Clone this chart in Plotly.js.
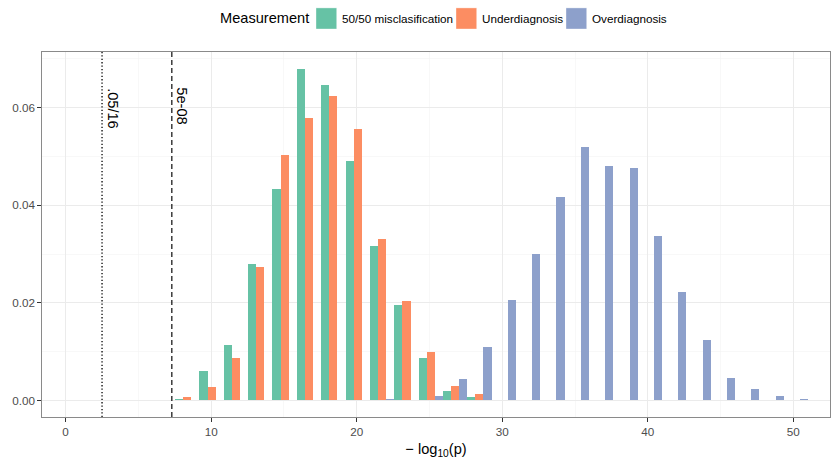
<!DOCTYPE html>
<html>
<head>
<meta charset="utf-8">
<script src="https://cdn.plot.ly/plotly-3.0.1.min.js"></script>
<style>html,body{margin:0;padding:0;background:#fff;}#chart{width:831px;height:459px;}</style>
</head>
<body>
<div id="chart"></div>
<script>
// Histogram bin centres (-log10 p)
var binCenters = [8.36, 10.03, 11.71, 13.38, 15.05, 16.72, 18.40, 20.07, 21.74, 23.42, 25.09, 26.76, 28.43,
                  30.11, 31.78, 33.45, 35.13, 36.80, 38.47, 40.14, 41.82, 43.49, 45.16, 46.83, 48.51, 50.18];
var seriesNames = ["50/50 misclasification", "Underdiagnosis", "Overdiagnosis"];
var misclassification = [0.0002, 0.0060, 0.0113, 0.0280, 0.0433, 0.0680, 0.0647, 0.0490, 0.0316, 0.0196, 0.0087, 0.0019, 0.0006,
                         0, 0, 0, 0, 0, 0, 0, 0, 0, 0, 0, 0, 0];
var underdiagnosis    = [0.0006, 0.0027, 0.0087, 0.0274, 0.0503, 0.0579, 0.0623, 0.0556, 0.0330, 0.0203, 0.0100, 0.0030, 0.0013,
                         0, 0, 0, 0, 0, 0, 0, 0, 0, 0, 0, 0, 0];
var overdiagnosis     = [0, 0, 0, 0, 0, 0, 0, 0, 0.0002, 0, 0.0009, 0.0043, 0.0109,
                         0.0206, 0.0300, 0.0416, 0.0519, 0.0480, 0.0476, 0.0336, 0.0222, 0.0123, 0.0046, 0.0023, 0.0009, 0.0003];
var colors = ["#66C2A5", "#FC8D62", "#8DA0CB"];
// Threshold lines
var thresholdX = [2.505, 7.301];
var thresholdLabels = [".05/16", "5e-08"];
var thresholdDash = ["1.3px,2.1px", "5px,3px"];
var thresholdWidth = [1.3, 1.15];
var xTicks = [0, 10, 20, 30, 40, 50];
var yTicks = [0, 0.02, 0.04, 0.06];
var yTickText = ["0.00", "0.02", "0.04", "0.06"];

var FONT = "Liberation Sans, Arial, Helvetica, sans-serif";
var W = 831, H = 459, ML = 42, MR = 1, MT = 52, MB = 42;
var PW = W - ML - MR, PH = H - MT - MB;
function px(x) { return (x - ML) / PW; }
function py(y) { return (H - MB - y) / PH; }

var allSeries = [misclassification, underdiagnosis, overdiagnosis];
var traces = allSeries.map(function (vals, i) {
  return {
    type: "bar",
    x: binCenters,
    y: vals,
    name: seriesNames[i],
    marker: {color: colors[i], line: {width: 0}},
    showlegend: false,
    hoverinfo: "x+y+name"
  };
});

var shapes = [];
var annotations = [];
thresholdX.forEach(function (xv, i) {
  shapes.push({type: "line", xref: "x", yref: "paper", x0: xv, x1: xv, y0: 0, y1: 1,
               line: {color: "#000000", width: thresholdWidth[i], dash: thresholdDash[i]}});
  annotations.push({xref: "x", yref: "y", x: xv, y: 0.0645, xshift: i === 0 ? 11 : 10,
                    xanchor: "center", yanchor: "top", textangle: 90, showarrow: false,
                    text: thresholdLabels[i], font: {family: FONT, size: 14.6, color: "#000000"}});
});

// Legend (drawn in the top margin)
annotations.push({xref: "paper", yref: "paper", x: px(217.5), y: py(18.3), xanchor: "left", yanchor: "middle",
                  showarrow: false, text: "Measurement", font: {family: FONT, size: 14.6, color: "#000000"}});
var keyX = [316, 456, 566];
var labelX = [339.5, 479.5, 589.5];
seriesNames.forEach(function (n, i) {
  shapes.push({type: "rect", xref: "paper", yref: "paper", x0: px(keyX[i]), x1: px(keyX[i] + 20.7),
               y0: py(29), y1: py(7.9), fillcolor: colors[i], line: {width: 0.6, color: "rgba(255,255,255,0.6)"}});
  annotations.push({xref: "paper", yref: "paper", x: px(labelX[i]), y: py(18.3), xanchor: "left", yanchor: "middle",
                    showarrow: false, text: n, font: {family: FONT, size: 11.7, color: "#000000"}});
});

var layout = {
  width: W, height: H,
  margin: {l: ML, r: MR, t: MT, b: MB, pad: 0},
  paper_bgcolor: "#ffffff", plot_bgcolor: "#ffffff",
  font: {family: FONT, size: 11.7, color: "#4d4d4d"},
  barmode: "group", bargap: 0, bargroupgap: 0,
  showlegend: false,
  xaxis: {
    range: [-1.62, 52.52], tickvals: xTicks, ticktext: xTicks.map(String),
    showgrid: true, gridcolor: "#ebebeb", gridwidth: 1.07, zeroline: false,
    minor: {dtick: 5, tick0: 5, showgrid: true, gridcolor: "#f2f2f2", gridwidth: 0.55, ticks: ""},
    ticks: "outside", ticklen: 3.6, tickwidth: 1.07, tickcolor: "#333333",
    tickfont: {family: FONT, size: 11.7, color: "#4d4d4d"},
    showline: true, mirror: true, linecolor: "#8a8a8a", linewidth: 1.1,
    title: {text: "\u2212 log<sub>10</sub>(p)", font: {family: FONT, size: 14.6, color: "#000000"}, standoff: 7},
    automargin: false
  },
  yaxis: {
    range: [-0.0034, 0.0714], tickvals: yTicks, ticktext: yTickText,
    showgrid: true, gridcolor: "#ebebeb", gridwidth: 1.07, zeroline: false,
    minor: {dtick: 0.02, tick0: 0.01, showgrid: true, gridcolor: "#f2f2f2", gridwidth: 0.55, ticks: ""},
    ticks: "outside", ticklen: 3.6, tickwidth: 1.07, tickcolor: "#333333",
    tickfont: {family: FONT, size: 11.7, color: "#4d4d4d"},
    showline: true, mirror: true, linecolor: "#8a8a8a", linewidth: 1.1,
    automargin: false
  },
  shapes: shapes,
  annotations: annotations
};

Plotly.newPlot("chart", traces, layout, {displayModeBar: false, staticPlot: true});
</script>
</body>
</html>
